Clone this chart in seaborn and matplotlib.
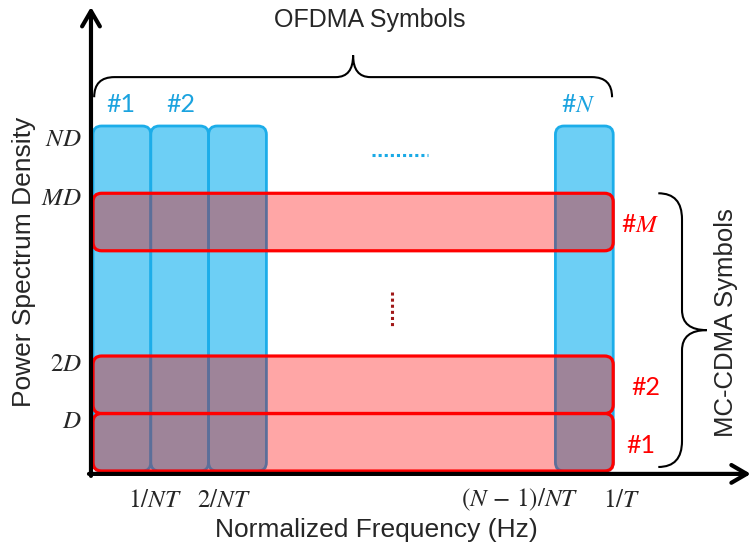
import matplotlib
matplotlib.use("Agg")
import matplotlib.pyplot as plt
from matplotlib.patches import FancyBboxPatch, PathPatch
from matplotlib.path import Path
import seaborn as sns

# OFDMA symbols: each one occupies a single 1/NT-wide subcarrier at power ND
ofdma_start = [0.0, 1.0, 2.0, 8.0]
ofdma_labels = ["#1", "#2", "", "#$N$"]
ofdma_label_x = [0.48, 1.52, None, 8.39]
ofdma_power = 6.0
bin_width = 1.0

# MC-CDMA symbols: spread over the whole band, each adding a power layer D
cdma_base = [0.0, 1.0, 3.83]
cdma_labels = ["#1", "#2", "#$M$"]
cdma_label_x = [9.48, 9.57, 9.46]
cdma_height = 1.0
band_end = 9.0

# axis annotations
psd_tick_y = [0.87, 1.86, 4.75, 5.77]
psd_tick_labels = ["$D$", "$2D$", "$MD$", "$ND$"]
freq_tick_x = [1.07, 2.27, 7.39, 9.15]
freq_tick_labels = ["$1/NT$", "$2/NT$", r"$(N\,-\,1)/NT$", "$1/T$"]

BLUE_FILL = "#6DCFF5"
BLUE_EDGE = "#1CADE9"
BLUE_TEXT = "#1BA3DF"
RED_FILL = "#FFA6A6"
RED_EDGE = "#FF0000"
MIX_FILL = "#9E8499"
MIX_EDGE = "#5B6F9A"

sns.set_theme(style="white")
plt.rcParams["font.family"] = ["Liberation Sans", "DejaVu Sans"]
plt.rcParams["mathtext.fontset"] = "stix"

fig = plt.figure(figsize=(7.52, 5.54), dpi=100)
ax = fig.add_axes([0, 0, 1, 1])
ax.set_xlim(-1.609, 11.401)
ax.set_ylim(-1.443, 8.191)
ax.axis("off")


def rbox(x, y, w, h, **kw):
    return FancyBboxPatch((x, y), w, h,
                          boxstyle="round,pad=0,rounding_size=0.15", **kw)


# OFDMA subcarrier columns
for x0 in ofdma_start:
    ax.add_patch(rbox(x0, 0, bin_width, ofdma_power, fc=BLUE_FILL,
                      ec=BLUE_EDGE, lw=2.0, zorder=1))

# MC-CDMA layers, with the overlap with each subcarrier shaded darker
for y0 in cdma_base:
    layer = rbox(0, y0, band_end, cdma_height, fc=RED_FILL, ec="none", zorder=2)
    ax.add_patch(layer)
    for x0 in ofdma_start:
        mix = rbox(x0, 0, bin_width, ofdma_power, fc=MIX_FILL,
                   ec=MIX_EDGE, lw=2.0, zorder=3)
        ax.add_patch(mix)
        mix.set_clip_path(layer)
for y0 in cdma_base:
    ax.add_patch(rbox(0, y0, band_end, cdma_height, fill=False,
                      ec=RED_EDGE, lw=2.3, zorder=4))

# symbol labels
for lx, lab in zip(ofdma_label_x, ofdma_labels):
    if lab:
        ax.text(lx, 6.37, lab, color=BLUE_TEXT, fontsize=18, family="Lato",
                ha="center", va="center")
for lx, y0, lab in zip(cdma_label_x, cdma_base, cdma_labels):
    ax.text(lx, y0 + cdma_height / 2 - 0.05, lab, color=RED_EDGE, fontsize=18,
            family="Lato", ha="center", va="center")

# ellipses for omitted symbols
ax.plot([4.83, 5.80], [5.50, 5.50], color="#1AAAE6", lw=2.2,
        linestyle=(0, (1, 1)), dash_capstyle="butt", zorder=5)
ax.plot([5.17, 5.17], [3.11, 2.50], color="#A01818", lw=2.2,
        linestyle=(0, (1, 1)), dash_capstyle="butt", zorder=5)

# axes with arrow heads
arrow_kw = dict(arrowstyle="->,head_length=0.55,head_width=0.32", lw=3,
                color="black", shrinkA=0, shrinkB=0, mutation_scale=20)
ax.annotate("", xy=(-0.035, 8.07), xytext=(-0.035, -0.085),
            arrowprops=arrow_kw, zorder=6)
ax.annotate("", xy=(11.38, -0.05), xytext=(-0.07, -0.05),
            arrowprops=arrow_kw, zorder=6)

# tick labels
for ty, lab in zip(psd_tick_y, psd_tick_labels):
    ax.text(-0.19, ty, lab, fontsize=18, ha="right", va="center")
for tx, lab in zip(freq_tick_x, freq_tick_labels):
    ax.text(tx, -0.50, lab, fontsize=18, ha="center", va="center")

ax.text(4.9, -1.03, "Normalized Frequency (Hz)", fontsize=19,
        ha="center", va="center")
ax.text(-1.19, 3.63, "Power Spectrum Density", fontsize=19, rotation=90,
        ha="center", va="center")


def brace(u0, u1, v_end, v_line, v_peak, r, c, swap=False):
    uc = (u0 + u1) / 2
    pts = [(u0, v_end), (u0, v_line), (u0 + r, v_line),
           (uc - c, v_line), (uc, v_line), (uc, v_peak),
           (uc, v_line), (uc + c, v_line),
           (u1 - r, v_line), (u1, v_line), (u1, v_end)]
    codes = [Path.MOVETO, Path.CURVE3, Path.CURVE3,
             Path.LINETO, Path.CURVE3, Path.CURVE3,
             Path.CURVE3, Path.CURVE3,
             Path.LINETO, Path.CURVE3, Path.CURVE3]
    if swap:
        pts = [(v, u) for u, v in pts]
    ax.add_patch(PathPatch(Path(pts, codes), fill=False, ec="black",
                           lw=1.5, zorder=6))


brace(0.02, 8.98, 6.50, 6.85, 7.23, 0.35, 0.30)
brace(0.07, 4.83, 9.78, 10.19, 10.62, 0.45, 0.35, swap=True)

ax.text(4.79, 7.84, "OFDMA Symbols", fontsize=18, ha="center", va="center")
ax.text(10.95, 2.59, "MC-CDMA Symbols", fontsize=18.5, rotation=90,
        ha="center", va="center")

fig.savefig("out.png", dpi=100)
